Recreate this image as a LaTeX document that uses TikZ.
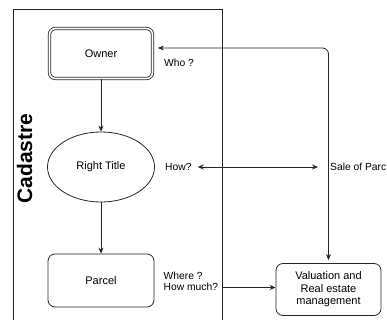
\documentclass[tikz,border=0pt]{standalone}
\usepackage{fontspec}
\setmainfont{Liberation Sans}
\usetikzlibrary{arrows.meta,shapes.geometric}
\begin{document}
\begin{tikzpicture}[x=1pt,y=-1pt,
  ln/.style={draw=black!85, line width=0.8pt},
  arr/.style={ln, -{Stealth[length=6pt,width=5pt]}},
  dblarr/.style={ln, {Stealth[length=6pt,width=5pt]}-{Stealth[length=6pt,width=5pt]}},
  box/.style={draw=black!85, line width=0.8pt, rounded corners=7pt, minimum width=106pt, minimum height=53pt, inner sep=0pt, align=center, font=\fontsize{11}{12.5}\selectfont},
  lbl/.style={font=\fontsize{10.3}{11.5}\selectfont, inner sep=1pt, align=left},
]
\useasboundingbox (0,0) rectangle (387,320);
\clip (0,0) rectangle (387,320);
% Cadastre pool
\coordinate (poolR) at (222.5,9);
\draw[ln] (13.5,330) -- (13.5,9) -- (poolR) -- (222.5,330);
\node[rotate=90, font=\bfseries\fontsize{21}{24}\selectfont, inner sep=0pt] (cad) at (24.5,158.5) {Cadastre};
% nodes
\node[box, double, double distance=1.6pt, minimum width=103pt, minimum height=50pt, rounded corners=6pt] (owner) at (101,53.5) {Owner};
\node[draw=black!85, line width=0.8pt, ellipse, minimum width=107pt, minimum height=70pt, inner sep=0pt, font=\fontsize{11}{12.5}\selectfont] (rt) at (101,167) {Right Title};
\node[box] (parcel) at (101,280.5) {Parcel};
\node[box, minimum width=105pt, minimum height=52pt] (val) at (328.5,289.5) {Valuation and\\Real estate\\management};
% labels
\node[lbl, anchor=west] (who) at (163,62.5) {Who ?};
\node[lbl, anchor=west] (how) at (164,167) {How?};
\node[lbl, anchor=west] (sale) at (329,167) {Sale of Parc};
\node[lbl, anchor=west] (where) at (162.5,281.5) {Where ?\\How much?};
% connectors
\draw[arr] (owner) -- (rt);
\draw[arr] (rt) -- (parcel);
\coordinate (toply) at (0,48);
\coordinate (lowy) at (0,287.5);
\draw[dblarr, rounded corners=6pt, shorten <=3pt, shorten >=5pt] (val.north) |- (owner.east |- toply);
\draw[dblarr, shorten <=5pt, shorten >=11pt] (how.east) -- (sale.west);
\draw[arr] (poolR |- lowy) -- (val.west |- lowy);
\end{tikzpicture}
\end{document}
